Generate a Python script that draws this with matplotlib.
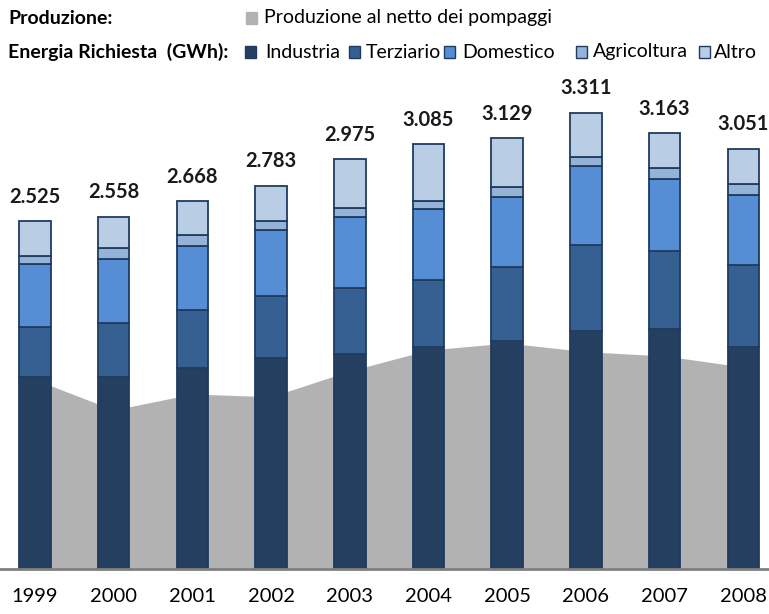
import matplotlib.pyplot as plt
from matplotlib.patches import Rectangle
import numpy as np

# ---- data (GWh) ----
anni = ["1999", "2000", "2001", "2002", "2003", "2004", "2005", "2006", "2007", "2008"]
industria   = [1396, 1396, 1461, 1531, 1558, 1613, 1657, 1729, 1739, 1613]
terziario   = [361, 392, 419, 452, 483, 484, 537, 624, 570, 593]
domestico   = [459, 464, 464, 477, 511, 513, 508, 571, 522, 508]
agricoltura = [58, 80, 80, 68, 70, 60, 70, 67, 80, 80]
altro       = [251, 226, 244, 255, 353, 415, 357, 320, 252, 257]
totali      = [2525, 2558, 2668, 2783, 2975, 3085, 3129, 3311, 3163, 3051]
produzione  = [1374, 1154, 1270, 1250, 1437, 1589, 1640, 1577, 1546, 1466]

serie = [
    ("Industria", industria, "#243F60"),
    ("Terziario", terziario, "#366092"),
    ("Domestico", domestico, "#558ED5"),
    ("Agricoltura", agricoltura, "#95B3D7"),
    ("Altro", altro, "#B9CDE5"),
]
EDGE = "#1F3B60"
GRIGIO = "#B2B2B2"

plt.rcParams["font.family"] = ["Lato", "DejaVu Sans"]

fig = plt.figure(figsize=(7.69, 6.14), dpi=100)
ax = fig.add_axes([0, 1 - 569 / 614, 1, (569 - 80) / 614])

x = np.arange(len(anni))
ax.fill_between(x, produzione, 0, color=GRIGIO, linewidth=0, zorder=1)

bottom = np.zeros(len(anni))
for nome, vals, col in serie:
    ax.bar(x, vals, width=0.4, bottom=bottom, color=col, edgecolor=EDGE,
           linewidth=1.3, zorder=2)
    bottom += np.array(vals)

for xi, top, tot in zip(x, bottom, totali):
    lab = f"{tot:,}".replace(",", ".")
    ax.annotate(lab, (xi, top), xytext=(0, 17.5), textcoords="offset points",
                ha="center", va="center", fontsize=14.5, fontweight="bold",
                color="#1a1a1a")

ax.set_xlim(-35 / 78.7, (769 - 35) / 78.7)
ax.set_ylim(0, 489 / 0.1378)
for s in ["top", "right", "left"]:
    ax.spines[s].set_visible(False)
ax.spines["bottom"].set_color("#808080")
ax.spines["bottom"].set_linewidth(2)
ax.set_yticks([])
ax.set_xticks(x)
ax.set_xticklabels(anni, fontsize=14.5)
ax.tick_params(axis="x", length=0, pad=14)

# ---- legenda in alto ----
def quadrato(px, py, col, edge):
    w, h = 11 / 769, 11 / 614
    fig.patches.append(Rectangle((px / 769, 1 - py / 614 - h / 2), w, h,
                                 transform=fig.transFigure, facecolor=col,
                                 edgecolor=edge, linewidth=1.0))

fig.text(8 / 769, 1 - 18 / 614, "Produzione:", fontsize=14, fontweight="bold",
         va="center", ha="left")
fig.text(8 / 769, 1 - 52 / 614, "Energia Richiesta  (GWh):", fontsize=14,
         fontweight="bold", va="center", ha="left")

quadrato(246, 18, GRIGIO, GRIGIO)
fig.text(264 / 769, 1 - 18 / 614, "Produzione al netto dei pompaggi",
         fontsize=14, va="center", ha="left")

leg_q = [245, 349, 444, 576, 699]
leg_t = [265, 366, 462, 593, 714]
for (nome, vals, col), qx, tx in zip(serie, leg_q, leg_t):
    quadrato(qx, 52, col, EDGE)
    fig.text(tx / 769, 1 - 52 / 614, nome, fontsize=14, va="center",
             ha="left")

fig.savefig("out.png", dpi=100)
